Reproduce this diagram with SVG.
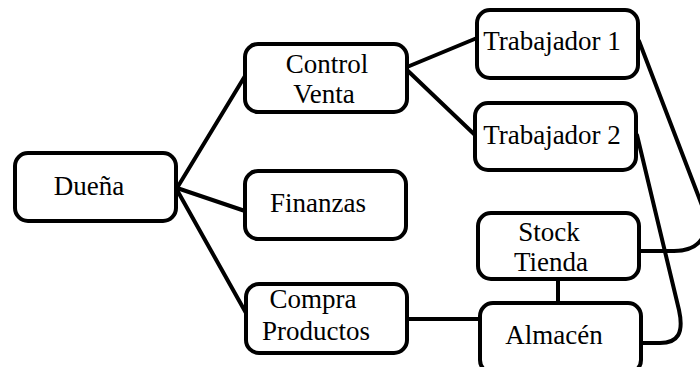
<svg xmlns="http://www.w3.org/2000/svg" width="700" height="367" viewBox="0 0 700 367">
  <style>
    .box { fill: #ffffff; stroke: #000000; stroke-width: 4; }
    .lbl { font-family: "Liberation Serif", "Times New Roman", serif; font-size: 27px; fill: #000000; text-anchor: middle; }
    .link { fill: none; stroke: #000000; stroke-width: 4; stroke-linecap: round; stroke-linejoin: round; }
  </style>
  <rect width="700" height="367" fill="#ffffff"/>

  <g id="connectors">
    <line class="link" x1="177" y1="188" x2="245" y2="76"/>
    <line class="link" x1="177" y1="188" x2="245" y2="211"/>
    <line class="link" x1="177" y1="190" x2="246" y2="313"/>
    <line class="link" x1="407" y1="67" x2="477" y2="38"/>
    <line class="link" x1="407" y1="70" x2="475" y2="135"/>
    <line class="link" x1="407" y1="319" x2="480" y2="319"/>
    <line class="link" x1="558" y1="279" x2="558" y2="303"/>
    <path class="link" d="M639,41 L703,208 C712,234 700,251 674,251 L639,251"/>
    <path class="link" d="M637,135 L679,310 C684,333 678,343 660,343 L641,343"/>
  </g>

  <g id="duena">
    <rect class="box" x="15" y="153" width="161" height="68" rx="13"/>
    <text class="lbl" x="89" y="195">Dueña</text>
  </g>
  <g id="control-venta">
    <rect class="box" x="245" y="44" width="162" height="68" rx="13"/>
    <text class="lbl" x="327" y="73">Control</text>
    <text class="lbl" x="324" y="103">Venta</text>
  </g>
  <g id="finanzas">
    <rect class="box" x="245" y="171" width="161" height="68" rx="13"/>
    <text class="lbl" x="318" y="212">Finanzas</text>
  </g>
  <g id="compra-productos">
    <rect class="box" x="246" y="284" width="161" height="69" rx="13"/>
    <text class="lbl" x="313" y="308">Compra</text>
    <text class="lbl" x="316" y="340">Productos</text>
  </g>
  <g id="trabajador-1">
    <rect class="box" x="477" y="10" width="161" height="68" rx="13"/>
    <text class="lbl" x="552" y="50">Trabajador 1</text>
  </g>
  <g id="trabajador-2">
    <rect class="box" x="475" y="103" width="161" height="67" rx="13"/>
    <text class="lbl" x="552" y="144">Trabajador 2</text>
  </g>
  <g id="stock-tienda">
    <rect class="box" x="478" y="213" width="161" height="66" rx="13"/>
    <text class="lbl" x="549" y="241">Stock</text>
    <text class="lbl" x="551" y="271">Tienda</text>
  </g>
  <g id="almacen">
    <rect class="box" x="480" y="303" width="161" height="70" rx="13"/>
    <text class="lbl" x="554" y="344">Almacén</text>
  </g>
</svg>
